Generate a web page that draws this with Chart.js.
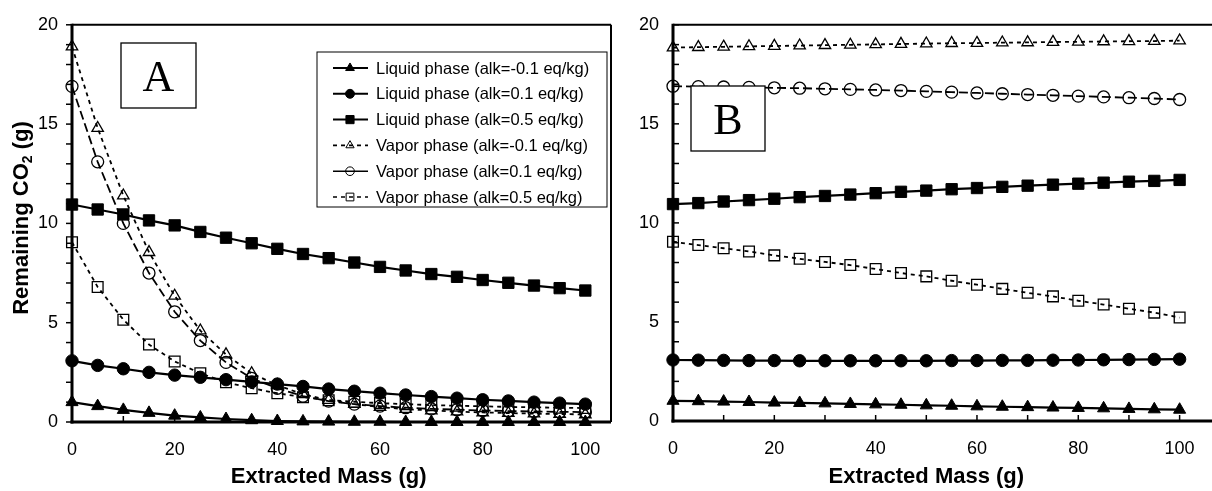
<!DOCTYPE html>
<html>
<head>
<meta charset="utf-8">
<script src="https://cdn.jsdelivr.net/npm/chart.js@4.4.0/dist/chart.umd.min.js"></script>
<style>
html, body { margin: 0; padding: 0; background: #fff; }
#wrap { position: relative; width: 1212px; height: 491px; overflow: hidden; }
.panel { position: absolute; top: 0; height: 491px; }
#panelA { left: 0; width: 620px; }
#panelB { left: 620px; width: 592px; }
</style>
</head>
<body>
<div id="wrap">
    <div class="panel" id="panelA"><canvas id="chartA"></canvas></div>
    <div class="panel" id="panelB"><canvas id="chartB"></canvas></div>
</div>
<script>
// ===== Data =====

var xValues = [0, 5, 10, 15, 20, 25, 30, 35, 40, 45, 50, 55, 60, 65, 70, 75, 80, 85, 90, 95, 100];
var xTickValues = [0, 20, 40, 60, 80, 100];
var yTickValues = [0, 5, 10, 15, 20];

var seriesLabels = [
    'Liquid phase (alk=-0.1 eq/kg)',
    'Liquid phase (alk=0.1 eq/kg)',
    'Liquid phase (alk=0.5 eq/kg)',
    'Vapor phase (alk=-0.1 eq/kg)',
    'Vapor phase (alk=0.1 eq/kg)',
    'Vapor phase (alk=0.5 eq/kg)'
];

// Panel A
var aLiqNeg01 = [1.0, 0.8, 0.61, 0.46, 0.32, 0.23, 0.15, 0.09, 0.05, 0.03, 0.02, 0.01, 0.01, 0.0, 0.0, 0.0, 0.0, 0.0, 0.0, 0.0, 0.0];
var aLiq01 = [3.08, 2.85, 2.68, 2.5, 2.36, 2.25, 2.13, 2.02, 1.91, 1.79, 1.66, 1.55, 1.45, 1.36, 1.28, 1.2, 1.12, 1.06, 1.0, 0.95, 0.9];
var aLiq05 = [10.95, 10.7, 10.45, 10.15, 9.9, 9.57, 9.28, 9.0, 8.72, 8.46, 8.25, 8.03, 7.81, 7.63, 7.45, 7.31, 7.15, 7.01, 6.87, 6.74, 6.62];
var aVapNeg01 = [18.9, 14.8, 11.4, 8.55, 6.35, 4.6, 3.4, 2.45, 1.85, 1.4, 1.1, 0.9, 0.75, 0.65, 0.58, 0.52, 0.48, 0.45, 0.42, 0.4, 0.38];
var aVap01 = [16.9, 13.1, 10.0, 7.5, 5.55, 4.1, 3.0, 2.2, 1.7, 1.3, 1.05, 0.9, 0.8, 0.72, 0.66, 0.62, 0.58, 0.55, 0.53, 0.51, 0.5];
var aVap05 = [9.05, 6.8, 5.15, 3.9, 3.05, 2.45, 2.0, 1.7, 1.45, 1.25, 1.1, 1.02, 0.95, 0.9, 0.85, 0.82, 0.79, 0.76, 0.74, 0.72, 0.7];

// Panel B
var bLiqNeg01 = [1.02, 1.0, 0.98, 0.96, 0.93, 0.91, 0.89, 0.86, 0.84, 0.82, 0.79, 0.77, 0.74, 0.72, 0.7, 0.68, 0.66, 0.64, 0.61, 0.59, 0.57];
var bLiq01 = [3.08, 3.07, 3.06, 3.05, 3.05, 3.04, 3.04, 3.04, 3.04, 3.04, 3.04, 3.05, 3.05, 3.06, 3.06, 3.07, 3.08, 3.09, 3.1, 3.11, 3.12];
var bLiq05 = [10.95, 11.0, 11.08, 11.15, 11.22, 11.3, 11.36, 11.43, 11.5, 11.57, 11.63, 11.7, 11.76, 11.82, 11.88, 11.93, 11.98, 12.03, 12.08, 12.12, 12.17];
var bVapNeg01 = [18.85, 18.87, 18.89, 18.91, 18.93, 18.95, 18.97, 18.99, 19.01, 19.03, 19.05, 19.07, 19.08, 19.1, 19.11, 19.13, 19.14, 19.16, 19.17, 19.18, 19.2];
var bVap01 = [16.9, 16.88, 16.86, 16.84, 16.82, 16.8, 16.77, 16.74, 16.71, 16.68, 16.64, 16.6, 16.56, 16.52, 16.48, 16.44, 16.4, 16.36, 16.32, 16.28, 16.23];
var bVap05 = [9.05, 8.88, 8.72, 8.56, 8.36, 8.19, 8.03, 7.87, 7.67, 7.47, 7.3, 7.08, 6.88, 6.67, 6.47, 6.29, 6.07, 5.88, 5.67, 5.47, 5.22];

// ===== Styles =====

var FONT = 'Arial, "Liberation Sans", sans-serif';
var DOTTED = [4, 4];
var DASHED = [9, 4];

var seriesStyles = [
    { style: 'triangle', radius: 7, filled: true, dash: [], width: 2.2 },
    { style: 'circle', radius: 6.2, filled: true, dash: [], width: 2.2 },
    { style: 'rect', radius: 8, filled: true, dash: [], width: 2.2 },
    { style: 'triangle', radius: 6.6, filled: false, dash: DOTTED, width: 1.8 },
    { style: 'circle', radius: 6, filled: false, dash: DASHED, width: 1.8 },
    { style: 'rect', radius: 7.6, filled: false, dash: DOTTED, width: 1.8 }
];

function toPoints(ys) {
    var pts = [];
    for (var i = 0; i < xValues.length; i++) pts.push({ x: xValues[i], y: ys[i] });
    return pts;
}

function makeDatasets(seriesList) {
    var out = [];
    for (var i = 0; i < seriesList.length; i++) {
        var s = seriesStyles[i];
        out.push({
            label: seriesLabels[i],
            data: toPoints(seriesList[i]),
            borderColor: '#000',
            borderWidth: s.width,
            borderDash: s.dash,
            fill: false,
            tension: 0,
            clip: false,
            pointStyle: s.style,
            pointRadius: s.radius,
            pointBorderWidth: s.filled ? 1 : 1.3,
            pointBorderColor: '#000',
            pointBackgroundColor: s.filled ? '#000' : 'rgba(255,255,255,0)'
        });
    }
    return out;
}

// ===== Decoration plugin: frame, ticks, titles, legend, panel label =====

function line(ctx, x1, y1, x2, y2) {
    ctx.beginPath();
    ctx.moveTo(x1, y1);
    ctx.lineTo(x2, y2);
    ctx.stroke();
}

var decorPlugin = {
    id: 'decor',
    beforeDatasetsDraw: function(chart, args, opts) {
        var ctx = chart.ctx, a = chart.chartArea;
        var xs = chart.scales.x, ys = chart.scales.y;
        var rightEdge = opts.rightBorder ? a.right : chart.width;
        ctx.save();
        ctx.strokeStyle = '#000';
        ctx.setLineDash([]);

        // top / right frame
        ctx.lineWidth = 2;
        line(ctx, a.left, a.top, rightEdge, a.top);
        if (opts.rightBorder) line(ctx, a.right, a.top, a.right, a.bottom);

        // y minor ticks every 1
        ctx.lineWidth = 1.5;
        for (var v = 0; v <= 20; v++) {
            var py = ys.getPixelForValue(v);
            var dx = opts.yTicksOut ? -6 : 6;
            line(ctx, a.left, py, a.left + dx, py);
        }
        // x ticks every 10, inward
        for (var t = 0; t <= 100; t += 10) {
            var px = xs.getPixelForValue(t);
            line(ctx, px, a.bottom, px, a.bottom - 6);
        }

        // axes
        ctx.lineWidth = 3;
        line(ctx, a.left, a.top - 1, a.left, a.bottom + 1.5);
        line(ctx, a.left - 1.5, a.bottom, rightEdge, a.bottom);
        ctx.restore();
    },
    afterDraw: function(chart, args, opts) {
        var ctx = chart.ctx;
        var xs = chart.scales.x;
        ctx.save();
        ctx.fillStyle = '#000';
        ctx.strokeStyle = '#000';

        // x title
        var cx = (xs.getPixelForValue(0) + xs.getPixelForValue(100)) / 2;
        ctx.font = 'bold 22px ' + FONT;
        ctx.textAlign = 'center';
        ctx.textBaseline = 'middle';
        ctx.fillText('Extracted Mass (g)', cx, 477);

        // y title with subscript
        if (opts.yTitle) {
            ctx.save();
            ctx.translate(20, 218);
            ctx.rotate(-Math.PI / 2);
            var big = 'bold 22px ' + FONT, small = 'bold 14px ' + FONT;
            ctx.font = big;
            var w1 = ctx.measureText('Remaining CO').width;
            var w3 = ctx.measureText(' (g)').width;
            ctx.font = small;
            var w2 = ctx.measureText('2').width;
            var x0 = -(w1 + w2 + w3) / 2;
            ctx.textAlign = 'left';
            ctx.textBaseline = 'alphabetic';
            ctx.font = big;
            ctx.fillText('Remaining CO', x0, 8);
            ctx.font = small;
            ctx.fillText('2', x0 + w1, 12);
            ctx.font = big;
            ctx.fillText(' (g)', x0 + w1 + w2, 8);
            ctx.restore();
        }

        // panel label box
        var b = opts.labelBox;
        ctx.fillStyle = '#fff';
        ctx.fillRect(b.x, b.y, b.w, b.h);
        ctx.lineWidth = 1.3;
        ctx.strokeRect(b.x, b.y, b.w, b.h);
        ctx.fillStyle = '#000';
        ctx.font = '44px "Liberation Serif", "Times New Roman", serif';
        ctx.textAlign = 'center';
        ctx.textBaseline = 'alphabetic';
        ctx.fillText(b.text, b.x + b.w / 2, b.y + b.h / 2 + 15);

        // legend
        if (opts.legendBox) {
            var L = opts.legendBox;
            ctx.fillStyle = '#fff';
            ctx.fillRect(L.x, L.y, L.w, L.h);
            ctx.lineWidth = 1;
            ctx.strokeRect(L.x, L.y, L.w, L.h);
            var sets = chart.data.datasets;
            for (var i = 0; i < sets.length; i++) {
                var ds = sets[i];
                var yy = L.y + 16 + i * 25.8;
                ctx.lineWidth = ds.borderWidth * 0.9;
                ctx.strokeStyle = '#000';
                // long dashes read as a solid stroke at legend size
                ctx.setLineDash(ds.borderDash.length && ds.borderDash[0] < 6 ? ds.borderDash : []);
                line(ctx, L.x + 16, yy, L.x + 51, yy);
                ctx.setLineDash([]);
                ctx.fillStyle = ds.pointBackgroundColor;
                ctx.lineWidth = 1;
                Chart.helpers.drawPoint(ctx, {
                    pointStyle: ds.pointStyle,
                    radius: ds.pointRadius * 0.72,
                    rotation: 0,
                    borderWidth: 1
                }, L.x + 33, yy);
                ctx.fillStyle = '#000';
                ctx.font = '16.5px ' + FONT;
                ctx.textAlign = 'left';
                ctx.textBaseline = 'middle';
                ctx.fillText(ds.label, L.x + 59, yy + 1);
            }
        }
        ctx.restore();
    }
};

// ===== Chart factory =====

function fixedTicks(values) {
    return function(s) {
        s.ticks = values.map(function(v) { return { value: v }; });
    };
}

function makeChart(canvasId, seriesList, cfg) {
    return new Chart(document.getElementById(canvasId), {
        type: 'line',
        data: { datasets: makeDatasets(seriesList) },
        plugins: [decorPlugin],
        options: {
            responsive: true,
            maintainAspectRatio: false,
            animation: false,
            devicePixelRatio: 1,
            layout: { padding: { top: 15, right: cfg.padRight, left: 0, bottom: 0 } },
            plugins: {
                legend: { display: false },
                tooltip: { enabled: false },
                decor: cfg.decor
            },
            scales: {
                x: {
                    type: 'linear',
                    min: 0,
                    max: cfg.xMax,
                    afterBuildTicks: fixedTicks(xTickValues),
                    afterFit: function(s) { s.height = cfg.xAxisH; },
                    ticks: { color: '#000', font: { family: FONT, size: 18 }, padding: 17, maxRotation: 0, autoSkip: false },
                    grid: { display: false, drawTicks: false },
                    border: { display: false }
                },
                y: {
                    min: 0,
                    max: 20,
                    afterBuildTicks: fixedTicks(yTickValues),
                    afterFit: function(s) { s.width = cfg.yAxisW; },
                    ticks: { color: '#000', font: { family: FONT, size: 18 }, padding: 14 },
                    grid: { display: false, drawTicks: false },
                    border: { display: false }
                }
            }
        }
    });
}

makeChart('chartA', [aLiqNeg01, aLiq01, aLiq05, aVapNeg01, aVap01, aVap05], {
    padRight: 2,
    xMax: 105,
    xAxisH: 69,
    yAxisW: 72,
    decor: {
        rightBorder: true,
        yTicksOut: true,
        yTitle: true,
        labelBox: { x: 121, y: 43, w: 75, h: 65, text: 'A' },
        legendBox: { x: 317, y: 52, w: 290, h: 155 }
    }
});

makeChart('chartB', [bLiqNeg01, bLiq01, bLiq05, bVapNeg01, bVap01, bVap05], {
    padRight: 0,
    xMax: 104.25,
    xAxisH: 70,
    yAxisW: 53,
    decor: {
        rightBorder: false,
        yTicksOut: false,
        yTitle: false,
        labelBox: { x: 71, y: 86, w: 74, h: 65, text: 'B' },
        legendBox: null
    }
});
</script>
</body>
</html>
